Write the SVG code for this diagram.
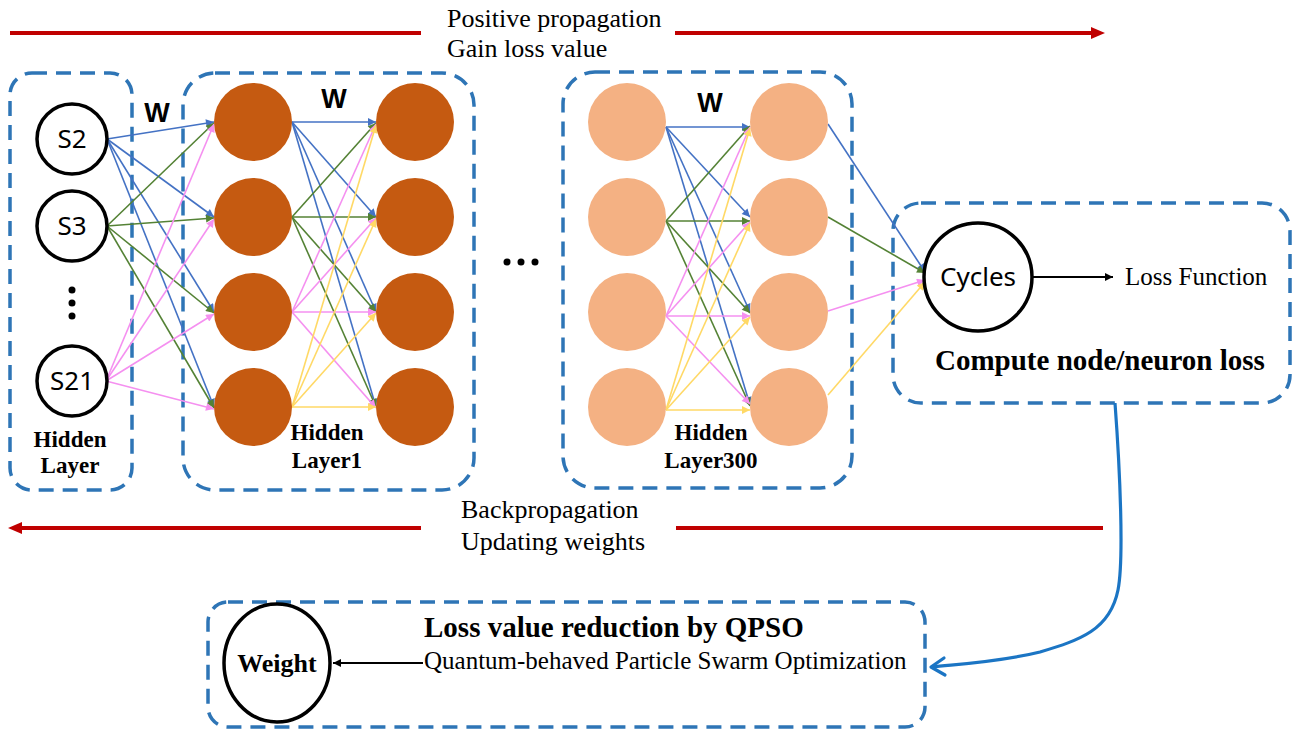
<svg xmlns="http://www.w3.org/2000/svg" width="1302" height="732" viewBox="0 0 1302 732">
<style>
.box{fill:none;stroke:#2E75B6;stroke-width:3.5;stroke-dasharray:15 9}
.ring{fill:#fff;stroke:#000;stroke-width:3.5}
.dk{fill:#C55A11}
.lt{fill:#F4B183}
.sans{font-family:"Noto Sans","DejaVu Sans",sans-serif;font-size:26px;fill:#000}
.w{font-family:"Liberation Sans","Noto Sans",sans-serif;font-size:27px;font-weight:bold;fill:#000}
.ser{font-family:"Liberation Serif","Times New Roman",serif;fill:#000}
.b{font-weight:bold}
.eb{stroke:#4472C4;stroke-width:1.6;fill:none;marker-end:url(#mb)}
.eg{stroke:#548235;stroke-width:1.6;fill:none;marker-end:url(#mg)}
.ep{stroke:#F590F0;stroke-width:1.6;fill:none;marker-end:url(#mp)}
.ey{stroke:#FFD966;stroke-width:1.6;fill:none;marker-end:url(#my)}
.red{stroke:#C00000;stroke-width:4;fill:none}
</style>
<defs>
<marker id="mb" viewBox="0 0 10 10" refX="10" refY="5" markerWidth="10" markerHeight="8" markerUnits="userSpaceOnUse" orient="auto"><path d="M0 0L10 5L0 10z" fill="#4472C4"/></marker>
<marker id="mg" viewBox="0 0 10 10" refX="10" refY="5" markerWidth="10" markerHeight="8" markerUnits="userSpaceOnUse" orient="auto"><path d="M0 0L10 5L0 10z" fill="#548235"/></marker>
<marker id="mp" viewBox="0 0 10 10" refX="10" refY="5" markerWidth="10" markerHeight="8" markerUnits="userSpaceOnUse" orient="auto"><path d="M0 0L10 5L0 10z" fill="#F590F0"/></marker>
<marker id="my" viewBox="0 0 10 10" refX="10" refY="5" markerWidth="10" markerHeight="8" markerUnits="userSpaceOnUse" orient="auto"><path d="M0 0L10 5L0 10z" fill="#FFD966"/></marker>
<marker id="mk" viewBox="0 0 10 10" refX="10" refY="5" markerWidth="9" markerHeight="8" markerUnits="userSpaceOnUse" orient="auto"><path d="M0 0L10 5L0 10z" fill="#000"/></marker>
</defs>
<rect width="1302" height="732" fill="#fff"/>

<g id="propagation">
<path class="red" d="M10 33H421M675 33H1092"/>
<path d="M1091 27L1105 33L1091 39z" fill="#C00000"/>
<text class="ser" x="447" y="27" font-size="26">Positive propagation</text>
<text class="ser" x="447" y="57" font-size="26">Gain loss value</text>
<path class="red" d="M21 528H421M676 528H1103"/>
<path d="M22 522L8 528L22 534z" fill="#C00000"/>
<text class="ser" x="461" y="518" font-size="26">Backpropagation</text>
<text class="ser" x="461" y="550" font-size="26">Updating weights</text>
</g>

<g id="box-hidden-layer">
<rect class="box" x="10" y="73" width="122" height="417" rx="22"/>
</g>
<g id="box-hidden-layer1">
<rect class="box" x="183" y="73" width="291" height="417" rx="32"/>
</g>
<g id="box-hidden-layer300">
<rect class="box" x="563" y="72" width="289" height="416" rx="32"/>
</g>
<g id="box-compute">
<rect class="box" x="893" y="203" width="397" height="200" rx="28"/>
</g>
<g id="box-qpso">
<rect class="box" x="208" y="602" width="717" height="125" rx="20"/>
</g>

<g id="connectors">
<!-- input -> layer1 -->
<path class="eb" d="M107 139L214 122"/>
<path class="eb" d="M107 139L214 217"/>
<path class="eb" d="M107 139L214 312"/>
<path class="eb" d="M107 139L214 407"/>
<path class="eg" d="M107 226L214 123"/>
<path class="eg" d="M107 226L214 218"/>
<path class="eg" d="M107 226L214 313"/>
<path class="eg" d="M107 226L214 408"/>
<path class="ep" d="M106 381L214 124"/>
<path class="ep" d="M106 381L214 219"/>
<path class="ep" d="M106 381L214 314"/>
<path class="ep" d="M106 381L214 409"/>
<!-- layer1 a -> b -->
<path class="eb" d="M292 122L376 122"/>
<path class="eb" d="M292 122L376 217"/>
<path class="eb" d="M292 122L376 312"/>
<path class="eb" d="M292 122L376 407"/>
<path class="eg" d="M292 217L376 123"/>
<path class="eg" d="M292 217L376 217"/>
<path class="eg" d="M292 217L376 312"/>
<path class="eg" d="M292 217L376 407"/>
<path class="ep" d="M292 312L376 124"/>
<path class="ep" d="M292 312L376 218"/>
<path class="ep" d="M292 312L376 312"/>
<path class="ep" d="M292 312L376 408"/>
<path class="ey" d="M292 407L376 125"/>
<path class="ey" d="M292 407L376 219"/>
<path class="ey" d="M292 407L376 313"/>
<path class="ey" d="M292 407L376 407"/>
<!-- layer300 a -> b -->
<path class="eb" d="M666 127L750 127"/>
<path class="eb" d="M666 127L750 217"/>
<path class="eb" d="M666 127L750 312"/>
<path class="eb" d="M666 127L750 405"/>
<path class="eg" d="M666 221L750 126"/>
<path class="eg" d="M666 221L750 221"/>
<path class="eg" d="M666 221L750 313"/>
<path class="eg" d="M666 221L750 406"/>
<path class="ep" d="M666 316L750 127"/>
<path class="ep" d="M666 316L750 222"/>
<path class="ep" d="M666 316L750 316"/>
<path class="ep" d="M666 316L750 404"/>
<path class="ey" d="M666 410L750 128"/>
<path class="ey" d="M666 410L750 223"/>
<path class="ey" d="M666 410L750 317"/>
<path class="ey" d="M666 410L750 410"/>
<!-- layer300 -> cycles -->
<path class="eb" d="M828 124L925 272"/>
<path class="eg" d="M828 217L925 273"/>
<path class="ep" d="M828 311L925 280"/>
<path class="ey" d="M828 395L925 282"/>
<!-- cycles -> loss function -->
<path d="M1033 277H1113" stroke="#000" stroke-width="2" fill="none" marker-end="url(#mk)"/>
<!-- qpso -> weight -->
<path d="M423 663H333" stroke="#000" stroke-width="2" fill="none" marker-end="url(#mk)"/>
<!-- compute -> qpso -->
<path d="M1115 403C1120 470 1124 560 1118 590C1110 630 1080 640 1040 652C1000 662 960 664 932 667" stroke="#1B75C4" stroke-width="3.2" fill="none"/>
<path d="M944 658L931 667L945 675" stroke="#1B75C4" stroke-width="3.2" fill="none" stroke-linecap="round" stroke-linejoin="round"/>
</g>

<g id="node-s2"><circle class="ring" cx="72" cy="139" r="35"/><text class="sans" x="72" y="148" text-anchor="middle">S2</text></g>
<g id="node-s3"><circle class="ring" cx="72" cy="226" r="35"/><text class="sans" x="72" y="235" text-anchor="middle">S3</text></g>
<g id="node-dots"><circle cx="72" cy="290" r="3.5"/><circle cx="72" cy="303" r="3.5"/><circle cx="72" cy="316" r="3.5"/></g>
<g id="node-s21"><circle class="ring" cx="72" cy="381" r="35"/><text class="sans" x="72" y="390" text-anchor="middle">S21</text></g>
<g id="label-hidden-layer"><text class="ser b" font-size="23" x="70" y="447" text-anchor="middle">Hidden</text><text class="ser b" font-size="23" x="70" y="473" text-anchor="middle">Layer</text></g>

<g id="layer1-a"><circle class="dk" cx="253" cy="122" r="39"/><circle class="dk" cx="253" cy="217" r="39"/><circle class="dk" cx="253" cy="312" r="39"/><circle class="dk" cx="253" cy="407" r="39"/></g>
<g id="layer1-b"><circle class="dk" cx="415" cy="122" r="39"/><circle class="dk" cx="415" cy="217" r="39"/><circle class="dk" cx="415" cy="312" r="39"/><circle class="dk" cx="415" cy="407" r="39"/></g>
<g id="label-hidden-layer1"><text class="ser b" font-size="23" x="327" y="440" text-anchor="middle">Hidden</text><text class="ser b" font-size="23" x="327" y="468" text-anchor="middle">Layer1</text></g>

<g id="ellipsis"><circle cx="507" cy="262" r="3.5"/><circle cx="521" cy="262" r="3.5"/><circle cx="535" cy="262" r="3.5"/></g>

<g id="layer300-a"><circle class="lt" cx="627" cy="122" r="39"/><circle class="lt" cx="627" cy="217" r="39"/><circle class="lt" cx="627" cy="312" r="39"/><circle class="lt" cx="627" cy="407" r="39"/></g>
<g id="layer300-b"><circle class="lt" cx="789" cy="122" r="39"/><circle class="lt" cx="789" cy="217" r="39"/><circle class="lt" cx="789" cy="312" r="39"/><circle class="lt" cx="789" cy="407" r="39"/></g>
<g id="label-hidden-layer300"><text class="ser b" font-size="23" x="711" y="440" text-anchor="middle">Hidden</text><text class="ser b" font-size="23" x="711" y="468" text-anchor="middle">Layer300</text></g>

<g id="w-labels"><text class="w" x="157" y="122" text-anchor="middle">W</text><text class="w" x="334" y="108" text-anchor="middle">W</text><text class="w" x="710" y="112" text-anchor="middle">W</text></g>

<g id="node-cycles"><circle class="ring" cx="978" cy="277" r="54"/><text class="sans" x="978" y="286" text-anchor="middle">Cycles</text></g>
<g id="label-loss-function"><text class="ser" font-size="25" x="1125" y="285">Loss Function</text></g>
<g id="label-compute"><text class="ser b" font-size="29" x="935" y="370">Compute node/neuron loss</text></g>

<g id="node-weight"><ellipse class="ring" cx="277" cy="663" rx="53" ry="59"/><text class="ser b" font-size="26" x="277" y="672" text-anchor="middle">Weight</text></g>
<g id="label-qpso"><text class="ser b" font-size="29" x="424" y="637">Loss value reduction by QPSO</text><text class="ser" font-size="25" x="424" y="669">Quantum-behaved Particle Swarm Optimization</text></g>
</svg>
